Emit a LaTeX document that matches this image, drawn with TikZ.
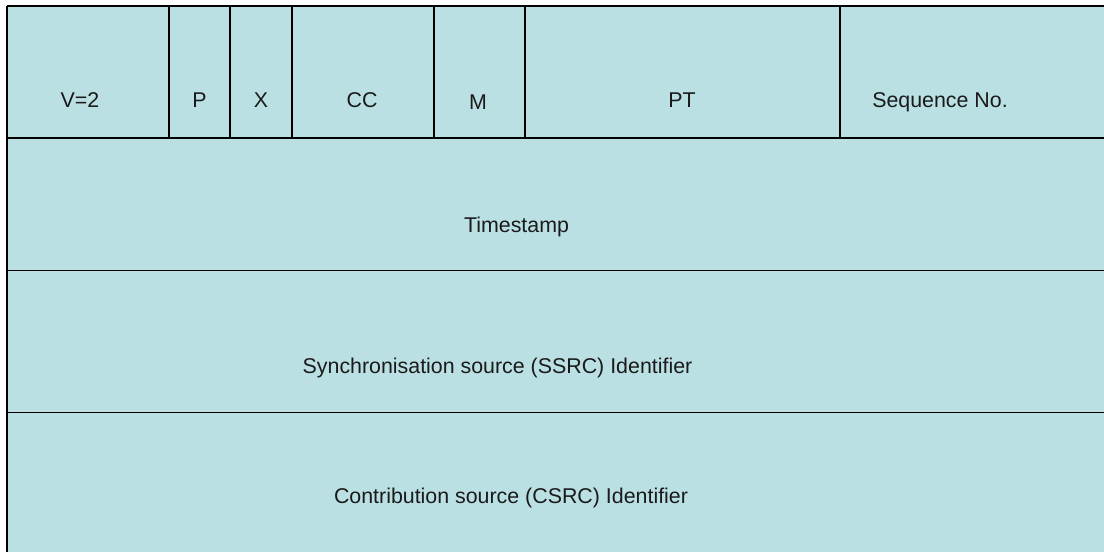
\documentclass[tikz,border=0pt]{standalone}
\usepackage{fontspec}
\setmainfont{Liberation Sans}

\definecolor{cellblue}{RGB}{187,224,227}
\definecolor{inkgray}{RGB}{26,26,26}

\tikzset{
  rule/.style={draw=black,line width=1.2pt},
  field/.style={anchor=base,inner sep=0pt,text=inkgray,
    font=\fontsize{15.2}{18}\selectfont}
}

\begin{document}
\begin{tikzpicture}[x=0.025cm,y=-0.025cm]
      % page size, anything past the right and bottom edge is cut off
      \useasboundingbox (0,0) rectangle (1104,552);
      \clip (0,0) rectangle (1104,552);

      % fill the whole table with light blue
      \fill[cellblue] (7,6) rectangle (1130,570);

      % outer top and left edges
      \draw[rule] (7,6) -- (1130,6);
      \draw[rule,line width=1.6pt] (7,6) -- (7,570);

      % dividers between the header fields
      \foreach \x in {169,230,292,434,525,840}
        \draw[rule] (\x,6) -- (\x,138);

      % row separators
      \foreach \y in {138,270.5,412.5}
        \draw[rule] (7,\y) -- (1130,\y);

      % header fields
      \node[field] (version) at (80,107) {V=2};
      \node[field] (padding) at (199.5,107) {P};
      \node[field] (extension) at (261,107) {X};
      \node[field] (csrccount) at (362,107) {CC};
      \node[field] (marker) at (478,109) {M};
      \node[field] (payload) at (682,107) {PT};
      \node[field] (seqno) at (940,107) {Sequence No.};

      % one field per row below
      \node[field] (timestamp) at (516.5,232) {Timestamp};
      \node[field] (ssrc) at (497.5,373) {Synchronisation source (SSRC) Identifier};
      \node[field] (csrc) at (511,503) {Contribution source (CSRC) Identifier};
\end{tikzpicture}
\end{document}
